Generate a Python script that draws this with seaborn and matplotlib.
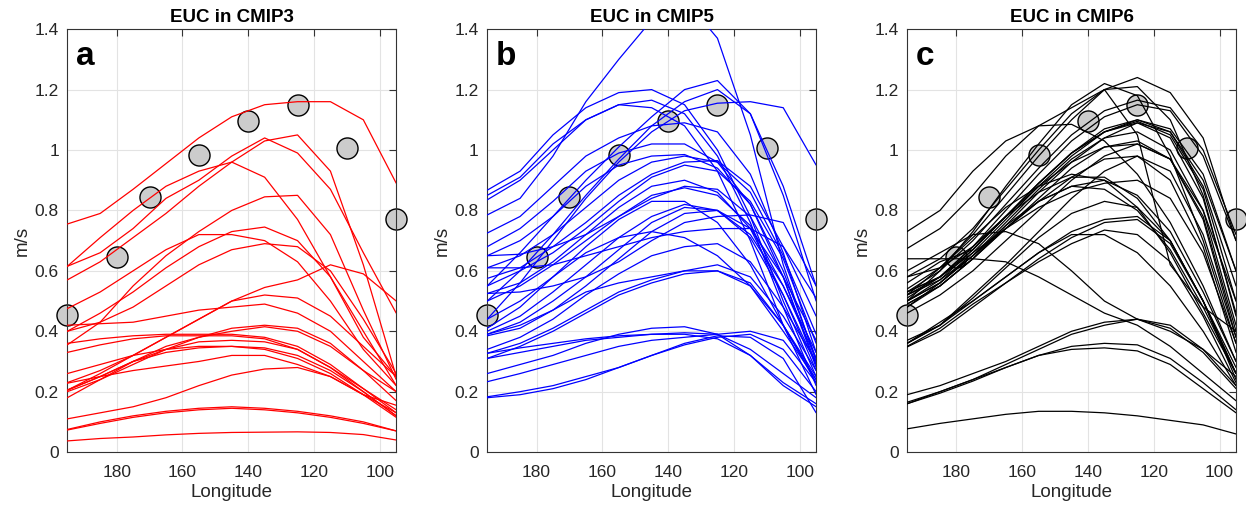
import numpy as np
import pandas as pd
import matplotlib
matplotlib.use('Agg')
import matplotlib.pyplot as plt
import seaborn as sns
from matplotlib.ticker import FuncFormatter

# longitudes (deg, 0-360 east) where each model profile is sampled
lon = [195, 185, 175, 165, 155, 145, 135, 125, 115, 105, 95]

# observed EUC core speed
obs_lon = [195, 180, 170, 155, 140, 125, 110, 95]
obs_u = [0.455, 0.645, 0.845, 0.985, 1.095, 1.15, 1.008, 0.77]

cmip3_u = [
    [0.755, 0.79, 0.87, 0.955, 1.04, 1.11, 1.15, 1.16, 1.16, 1.10, 0.89],
    [0.615, 0.71, 0.80, 0.88, 0.93, 0.96, 0.91, 0.77, 0.58, 0.38, 0.25],
    [0.615, 0.66, 0.74, 0.84, 0.90, 0.98, 1.04, 0.99, 0.87, 0.66, 0.46],
    [0.57, 0.63, 0.71, 0.79, 0.88, 0.96, 1.03, 1.05, 0.93, 0.62, 0.25],
    [0.475, 0.53, 0.60, 0.67, 0.72, 0.72, 0.70, 0.63, 0.50, 0.34, 0.22],
    [0.40, 0.46, 0.53, 0.61, 0.68, 0.73, 0.745, 0.70, 0.58, 0.40, 0.22],
    [0.355, 0.43, 0.55, 0.65, 0.73, 0.80, 0.845, 0.85, 0.72, 0.47, 0.24],
    [0.40, 0.43, 0.48, 0.55, 0.62, 0.67, 0.69, 0.68, 0.60, 0.44, 0.26],
    [0.42, 0.425, 0.43, 0.45, 0.47, 0.48, 0.49, 0.46, 0.40, 0.30, 0.20],
    [0.36, 0.375, 0.385, 0.39, 0.39, 0.39, 0.38, 0.35, 0.29, 0.21, 0.14],
    [0.33, 0.355, 0.375, 0.385, 0.385, 0.385, 0.375, 0.34, 0.28, 0.20, 0.12],
    [0.26, 0.29, 0.32, 0.34, 0.35, 0.35, 0.34, 0.31, 0.26, 0.19, 0.13],
    [0.23, 0.27, 0.32, 0.38, 0.44, 0.50, 0.52, 0.51, 0.45, 0.35, 0.25],
    [0.205, 0.26, 0.32, 0.38, 0.44, 0.50, 0.545, 0.57, 0.62, 0.59, 0.50],
    [0.205, 0.25, 0.30, 0.34, 0.365, 0.37, 0.365, 0.34, 0.28, 0.21, 0.13],
    [0.20, 0.24, 0.29, 0.34, 0.38, 0.41, 0.42, 0.41, 0.36, 0.27, 0.17],
    [0.18, 0.24, 0.30, 0.35, 0.38, 0.40, 0.415, 0.40, 0.35, 0.27, 0.20],
    [0.228, 0.25, 0.27, 0.285, 0.30, 0.32, 0.32, 0.29, 0.25, 0.19, 0.115],
    [0.11, 0.13, 0.15, 0.18, 0.22, 0.255, 0.275, 0.28, 0.25, 0.19, 0.155],
    [0.073, 0.095, 0.115, 0.13, 0.14, 0.145, 0.14, 0.13, 0.115, 0.095, 0.07],
    [0.075, 0.10, 0.12, 0.135, 0.145, 0.15, 0.145, 0.135, 0.12, 0.10, 0.07],
    [0.037, 0.045, 0.05, 0.057, 0.062, 0.065, 0.066, 0.067, 0.065, 0.058, 0.04],
    [0.205, 0.25, 0.30, 0.33, 0.345, 0.35, 0.345, 0.32, 0.27, 0.20, 0.12],
]

cmip5_u = [
    [0.785, 0.84, 0.98, 1.16, 1.30, 1.43, 1.50, 1.37, 1.05, 0.62, 0.30],
    [0.867, 0.93, 1.05, 1.14, 1.19, 1.20, 1.15, 1.00, 0.78, 0.50, 0.25],
    [0.85, 0.91, 1.02, 1.10, 1.15, 1.165, 1.12, 0.98, 0.76, 0.48, 0.22],
    [0.835, 0.90, 1.00, 1.10, 1.15, 1.14, 1.08, 0.93, 0.70, 0.42, 0.19],
    [0.55, 0.66, 0.78, 0.90, 1.01, 1.11, 1.20, 1.23, 1.12, 0.85, 0.50],
    [0.50, 0.60, 0.72, 0.85, 0.97, 1.08, 1.16, 1.20, 1.12, 0.88, 0.55],
    [0.44, 0.56, 0.70, 0.84, 0.96, 1.06, 1.13, 1.155, 1.16, 1.14, 0.95],
    [0.725, 0.78, 0.88, 0.98, 1.04, 1.08, 1.09, 1.06, 0.92, 0.66, 0.33],
    [0.68, 0.74, 0.83, 0.93, 0.99, 1.02, 1.02, 0.96, 0.82, 0.58, 0.29],
    [0.65, 0.70, 0.78, 0.88, 0.95, 0.98, 0.985, 0.94, 0.82, 0.60, 0.31],
    [0.61, 0.65, 0.72, 0.81, 0.90, 0.96, 0.98, 0.96, 0.86, 0.65, 0.39],
    [0.575, 0.61, 0.68, 0.76, 0.85, 0.92, 0.96, 0.965, 0.88, 0.68, 0.45],
    [0.55, 0.60, 0.66, 0.74, 0.83, 0.91, 0.95, 0.93, 0.83, 0.64, 0.36],
    [0.525, 0.56, 0.63, 0.72, 0.81, 0.88, 0.90, 0.86, 0.74, 0.52, 0.27],
    [0.50, 0.55, 0.62, 0.70, 0.78, 0.85, 0.875, 0.85, 0.75, 0.55, 0.31],
    [0.41, 0.48, 0.58, 0.68, 0.77, 0.83, 0.83, 0.76, 0.62, 0.42, 0.23],
    [0.40, 0.45, 0.53, 0.62, 0.71, 0.78, 0.82, 0.80, 0.71, 0.52, 0.29],
    [0.39, 0.43, 0.50, 0.58, 0.67, 0.76, 0.81, 0.80, 0.72, 0.55, 0.33],
    [0.385, 0.41, 0.47, 0.55, 0.64, 0.73, 0.79, 0.80, 0.74, 0.58, 0.37],
    [0.525, 0.53, 0.55, 0.58, 0.63, 0.70, 0.76, 0.78, 0.785, 0.76, 0.55],
    [0.61, 0.61, 0.62, 0.65, 0.68, 0.71, 0.73, 0.74, 0.74, 0.68, 0.51],
    [0.44, 0.50, 0.58, 0.66, 0.71, 0.73, 0.71, 0.65, 0.55, 0.40, 0.24],
    [0.34, 0.38, 0.44, 0.52, 0.59, 0.65, 0.68, 0.69, 0.63, 0.48, 0.30],
    [0.327, 0.36, 0.41, 0.47, 0.53, 0.57, 0.60, 0.62, 0.58, 0.45, 0.27],
    [0.31, 0.35, 0.40, 0.46, 0.52, 0.56, 0.59, 0.60, 0.56, 0.42, 0.24],
    [0.39, 0.42, 0.47, 0.53, 0.56, 0.58, 0.60, 0.60, 0.55, 0.42, 0.25],
    [0.26, 0.29, 0.32, 0.36, 0.39, 0.41, 0.415, 0.39, 0.32, 0.22, 0.15],
    [0.327, 0.345, 0.36, 0.375, 0.385, 0.39, 0.39, 0.375, 0.32, 0.23, 0.16],
    [0.31, 0.33, 0.35, 0.37, 0.38, 0.39, 0.395, 0.39, 0.34, 0.26, 0.18],
    [0.233, 0.26, 0.29, 0.32, 0.35, 0.37, 0.38, 0.39, 0.40, 0.37, 0.23],
    [0.183, 0.20, 0.22, 0.25, 0.28, 0.32, 0.355, 0.38, 0.39, 0.34, 0.20],
    [0.18, 0.19, 0.21, 0.24, 0.28, 0.32, 0.36, 0.385, 0.38, 0.31, 0.13],
    [0.65, 0.655, 0.68, 0.72, 0.78, 0.84, 0.88, 0.87, 0.78, 0.58, 0.28],
]

cmip6_u = [
    [0.73, 0.80, 0.93, 1.03, 1.08, 1.085, 1.03, 0.92, 0.76, 0.55, 0.30],
    [0.674, 0.74, 0.85, 0.98, 1.08, 1.14, 1.20, 1.21, 1.10, 0.85, 0.45],
    [0.52, 0.61, 0.72, 0.85, 0.98, 1.10, 1.20, 1.24, 1.19, 1.04, 0.70],
    [0.50, 0.60, 0.73, 0.88, 1.02, 1.15, 1.22, 1.18, 0.98, 0.70, 0.36],
    [0.58, 0.64, 0.74, 0.87, 1.00, 1.12, 1.20, 1.05, 0.62, 0.48, 0.40],
    [0.53, 0.60, 0.70, 0.82, 0.94, 1.05, 1.13, 1.165, 1.14, 1.00, 0.72],
    [0.51, 0.58, 0.68, 0.80, 0.92, 1.03, 1.11, 1.15, 1.13, 0.98, 0.70],
    [0.50, 0.57, 0.67, 0.78, 0.89, 0.99, 1.07, 1.10, 1.07, 0.92, 0.60],
    [0.53, 0.58, 0.67, 0.78, 0.89, 0.99, 1.06, 1.10, 1.06, 0.88, 0.55],
    [0.48, 0.56, 0.66, 0.77, 0.88, 0.98, 1.06, 1.095, 1.05, 0.87, 0.50],
    [0.49, 0.55, 0.64, 0.75, 0.86, 0.96, 1.04, 1.09, 1.04, 0.84, 0.46],
    [0.50, 0.56, 0.65, 0.76, 0.87, 0.97, 1.04, 1.06, 1.00, 0.80, 0.42],
    [0.52, 0.57, 0.65, 0.74, 0.84, 0.94, 1.01, 1.03, 0.97, 0.77, 0.38],
    [0.46, 0.52, 0.60, 0.70, 0.80, 0.90, 0.98, 1.02, 0.97, 0.78, 0.40],
    [0.49, 0.55, 0.64, 0.74, 0.83, 0.91, 0.97, 0.98, 0.90, 0.68, 0.33],
    [0.37, 0.42, 0.52, 0.62, 0.73, 0.84, 0.93, 0.98, 0.93, 0.72, 0.38],
    [0.54, 0.61, 0.71, 0.81, 0.88, 0.92, 0.90, 0.81, 0.66, 0.46, 0.26],
    [0.52, 0.58, 0.68, 0.78, 0.86, 0.91, 0.91, 0.84, 0.70, 0.50, 0.28],
    [0.50, 0.56, 0.65, 0.75, 0.83, 0.88, 0.90, 0.85, 0.73, 0.53, 0.30],
    [0.48, 0.55, 0.64, 0.74, 0.83, 0.88, 0.87, 0.80, 0.67, 0.48, 0.26],
    [0.53, 0.58, 0.66, 0.74, 0.81, 0.86, 0.89, 0.90, 0.84, 0.66, 0.36],
    [0.36, 0.42, 0.51, 0.61, 0.71, 0.79, 0.83, 0.81, 0.70, 0.50, 0.26],
    [0.36, 0.43, 0.50, 0.58, 0.66, 0.73, 0.77, 0.78, 0.70, 0.50, 0.26],
    [0.348, 0.40, 0.48, 0.56, 0.64, 0.71, 0.76, 0.77, 0.69, 0.50, 0.24],
    [0.35, 0.41, 0.49, 0.56, 0.63, 0.69, 0.735, 0.72, 0.63, 0.45, 0.23],
    [0.36, 0.42, 0.50, 0.58, 0.66, 0.72, 0.72, 0.66, 0.55, 0.40, 0.22],
    [0.60, 0.66, 0.72, 0.73, 0.69, 0.60, 0.50, 0.44, 0.40, 0.34, 0.25],
    [0.64, 0.64, 0.64, 0.63, 0.58, 0.52, 0.46, 0.42, 0.35, 0.26, 0.17],
    [0.19, 0.22, 0.26, 0.30, 0.35, 0.40, 0.43, 0.44, 0.41, 0.33, 0.21],
    [0.16, 0.20, 0.24, 0.29, 0.34, 0.39, 0.42, 0.44, 0.42, 0.34, 0.22],
    [0.165, 0.20, 0.24, 0.28, 0.32, 0.35, 0.36, 0.355, 0.31, 0.23, 0.14],
    [0.16, 0.195, 0.235, 0.28, 0.32, 0.34, 0.345, 0.335, 0.29, 0.21, 0.13],
    [0.077, 0.095, 0.11, 0.125, 0.135, 0.135, 0.13, 0.12, 0.105, 0.09, 0.06],
    [0.56, 0.63, 0.67, 0.78, 0.89, 0.99, 1.06, 1.09, 1.06, 0.90, 0.60],
    [0.58, 0.61, 0.68, 0.78, 0.88, 0.96, 1.01, 1.02, 0.97, 0.80, 0.50],
]

panels = [
    ('EUC in CMIP3', 'a', cmip3_u, '#ff0000'),
    ('EUC in CMIP5', 'b', cmip5_u, '#0000ff'),
    ('EUC in CMIP6', 'c', cmip6_u, '#000000'),
]

sns.set_style('white')
plt.rcParams['font.family'] = ['Liberation Sans', 'DejaVu Sans']

fig = plt.figure(figsize=(12.46, 5.12), dpi=100)
lefts = [0.054, 0.391, 0.728]
txt_col = '#262626'

for (title, letter, curves, col), left in zip(panels, lefts):
    ax = fig.add_axes([left, 0.117, 0.264, 0.826])
    df = pd.DataFrame([(i, x, u) for i, c in enumerate(curves) for x, u in zip(lon, c)],
                      columns=['model', 'lon', 'u'])
    # obs circles sit under the model lines
    sns.scatterplot(x=obs_lon, y=obs_u, ax=ax, s=230, color='#cccccc',
                    edgecolor='black', linewidth=1.0, zorder=2, clip_on=False)
    sns.lineplot(data=df, x='lon', y='u', units='model', estimator=None,
                 color=col, lw=0.9, ax=ax, zorder=3, legend=False)
    ax.set_xlim(195, 95)
    ax.set_ylim(0, 1.4)
    ax.set_xticks([180, 160, 140, 120, 100])
    ax.set_yticks(np.arange(0, 1.41, 0.2))
    ax.yaxis.set_major_formatter(FuncFormatter(lambda v, p: '%g' % round(v, 1)))
    ax.grid(True, color='#e3e3e3', lw=0.8)
    ax.set_axisbelow(True)
    ax.tick_params(direction='in', top=True, right=True, length=5, width=0.8,
                   labelsize=12.5, labelcolor=txt_col, color='#333333')
    ax.tick_params(axis='x', pad=9)
    ax.tick_params(axis='y', pad=6)
    for sp in ax.spines.values():
        sp.set_color('#333333')
        sp.set_linewidth(0.8)
    ax.set_xlabel('Longitude', fontsize=13.5, color=txt_col, labelpad=3)
    ax.set_ylabel('m/s', fontsize=13.5, color=txt_col, labelpad=3)
    ax.set_title(title, fontsize=13.5, fontweight='bold', color='black', pad=5)
    ax.text(0.025, 0.915, letter, transform=ax.transAxes, fontsize=24,
            fontweight='bold', color='black', va='baseline', ha='left')

fig.savefig('out.png', dpi=100)
